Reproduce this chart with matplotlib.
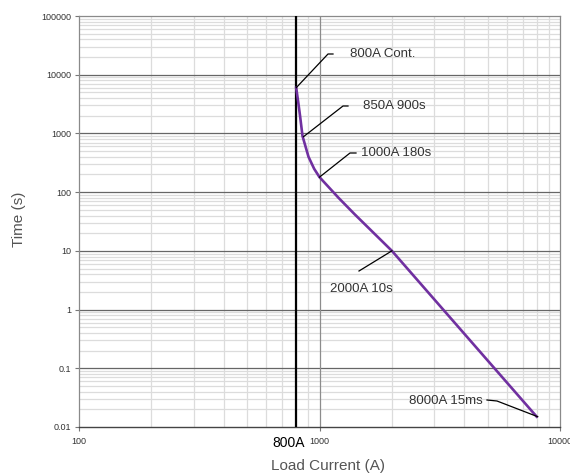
import matplotlib
matplotlib.use("Agg")
import matplotlib.pyplot as plt
from matplotlib.ticker import LogLocator, FixedLocator, NullFormatter, FixedFormatter
import matplotlib.transforms as mtransforms

plt.rcParams['font.family'] = ['Liberation Sans', 'DejaVu Sans']

# Curve data
current = [800, 815, 830, 850, 900, 950, 1000, 1200, 1400, 2000, 8000]
time_s = [6000, 3500, 2000, 900, 400, 250, 180, 80, 42, 10, 0.015]

x_ticks = [100, 1000, 10000]
x_tick_labels = ["100", "1000", "10000"]
y_ticks = [0.01, 0.1, 1, 10, 100, 1000, 10000, 100000]
y_tick_labels = ["0.01", "0.1", "1", "10", "100", "1000", "10000", "100000"]

rating = 800
rating_label = "800A"

annot_labels = ["800A Cont.", "850A 900s", "1000A 180s", "2000A 10s", "8000A 15ms"]
annot_points = [(800, 6000), (858, 880), (1000, 180), (2000, 10), (8070, 0.015)]

fig = plt.figure(figsize=(5.7, 4.74), dpi=100)
ax = fig.add_axes([79/570, 1-427/474, (560-79)/570, (427-16)/474])
ax.set_xscale('log')
ax.set_yscale('log')
ax.set_xlim(100, 10000)
ax.set_ylim(0.01, 100000)

# ticks and grid
ax.xaxis.set_major_locator(FixedLocator(x_ticks))
ax.xaxis.set_major_formatter(FixedFormatter(x_tick_labels))
ax.yaxis.set_major_locator(FixedLocator(y_ticks))
ax.yaxis.set_major_formatter(FixedFormatter(y_tick_labels))
ax.xaxis.set_minor_locator(LogLocator(base=10, subs=range(2, 10)))
ax.yaxis.set_minor_locator(LogLocator(base=10, subs=range(2, 10), numticks=20))
ax.xaxis.set_minor_formatter(NullFormatter())
ax.yaxis.set_minor_formatter(NullFormatter())
ax.grid(which='minor', axis='both', color='#dcdcdc', linewidth=0.9)
ax.set_axisbelow(True)
for yv in y_ticks[1:-1]:
    ax.axhline(yv, color='#666666', linewidth=0.9, zorder=1.5)
for xv in x_ticks[1:-1]:
    ax.axvline(xv, color='#8c8c8c', linewidth=0.9, zorder=1.6)

ax.tick_params(which='minor', length=0)
ax.tick_params(which='major', length=3, width=0.8, color='#777777',
               labelsize=6.5, labelcolor='#333333', pad=4.5)
ax.tick_params(axis='y', pad=2.5)
for s in ['left', 'right', 'top']:
    ax.spines[s].set_color('#8a8a8a')
    ax.spines[s].set_linewidth(0.9)
ax.spines['bottom'].set_color('#444444')
ax.spines['bottom'].set_linewidth(1.0)

# rating line
ax.axvline(rating, color='black', linewidth=1.6, zorder=3)

# curve
ax.plot(current, time_s, color='#7030A0', linewidth=1.9, zorder=4)

def px2data(px, py):
    return ax.transData.inverted().transform(
        fig.transFigure.transform((px/570, 1-py/474)))

fig.canvas.draw()

# rating label below axis
trans = mtransforms.blended_transform_factory(ax.transData, ax.transAxes)
rx = px2data(288.5, 443)[0]
ax.text(rx, -(443-427)/411, rating_label, transform=trans, ha='center', va='center',
        fontsize=10, color='black')

# annotations (pixel positions of elbow/end/text)
annot_geom = [
    ((328, 54), (333, 54), (350, 54), 'left'),
    ((343, 106), (348, 106), (363, 106), 'left'),
    ((350, 153), (356, 153), (361, 153), 'left'),
    ((359, 271), None, (330, 289), 'left'),
    ((497, 401), (487, 400), (483, 401), 'right'),
]
for lab, pt, geom in zip(annot_labels, annot_points, annot_geom):
    elbow, end, txt, ha = geom
    e = px2data(*elbow)
    xs = [pt[0], e[0]]
    ys = [pt[1], e[1]]
    if end is not None:
        en = px2data(*end)
        xs.append(en[0]); ys.append(en[1])
    ax.plot(xs, ys, color='black', linewidth=0.9, zorder=5, clip_on=False)
    t = px2data(*txt)
    ax.text(t[0], t[1], lab, ha=ha, va='center', fontsize=9.5, color='#333333', zorder=6)

ax.set_xlabel("Load Current (A)", fontsize=11, color='#555555')
ax.xaxis.set_label_coords((328-79)/(560-79), -(459-427)/(427-16))
ax.set_ylabel("Time (s)", fontsize=11, color='#555555')
ax.yaxis.set_label_coords(-(79-26)/(560-79), (427-219)/(427-16))

fig.savefig("out.png", dpi=100)
